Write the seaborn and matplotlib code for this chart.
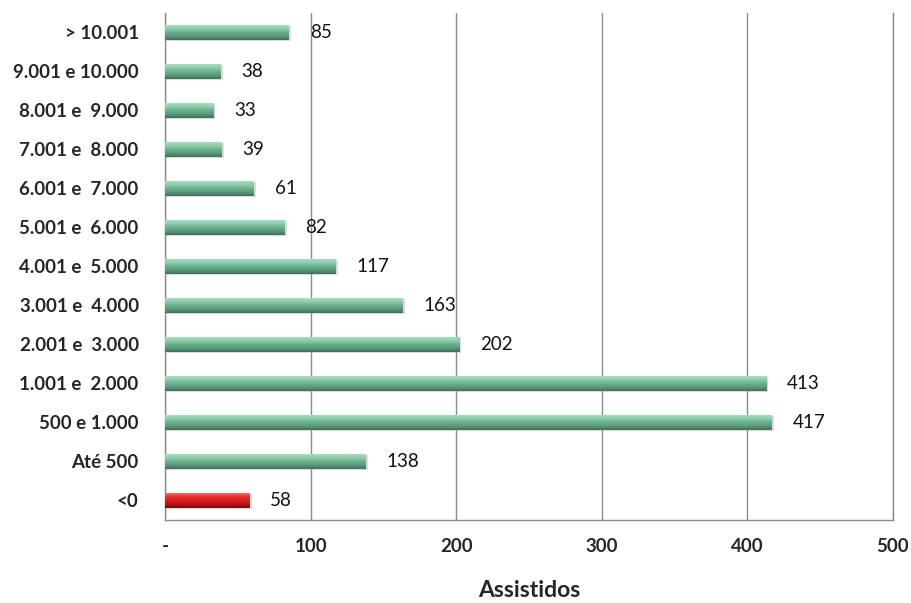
import numpy as np
import pandas as pd
import matplotlib
matplotlib.use("Agg")
import matplotlib.pyplot as plt
import seaborn as sns
from matplotlib.colors import LinearSegmentedColormap

# Income bands (top to bottom) and number of assisted people in each
faixas = ["> 10.001", "9.001 e 10.000", "8.001 e  9.000", "7.001 e  8.000",
          "6.001 e  7.000", "5.001 e  6.000", "4.001 e  5.000", "3.001 e  4.000",
          "2.001 e  3.000", "1.001 e  2.000", "500 e 1.000", "Até 500", "<0"]
assistidos = [85, 38, 33, 39, 61, 82, 117, 163, 202, 413, 417, 138, 58]
x_ticks = [0, 100, 200, 300, 400, 500]
x_ticklabels = ["-", "100", "200", "300", "400", "500"]

df = pd.DataFrame({"faixa": faixas, "assistidos": assistidos})
df["grupo"] = np.where(df["faixa"] == "<0", "negativo", "positivo")

sns.set_theme(style="white")
plt.rcParams["font.family"] = ["Lato", "DejaVu Sans"]

fig = plt.figure(figsize=(9.12, 6.03), dpi=100)
ax = fig.add_axes([0.181, 0.138, 0.798, 0.841])

palette = {"positivo": "#6aae8c", "negativo": "#d81e1e"}
sns.barplot(data=df, y="faixa", x="assistidos", hue="grupo", order=faixas,
            palette=palette, orient="h", width=0.38, dodge=False,
            legend=False, ax=ax, zorder=3)

# Bevelled look: vertical gradient clipped to each bar
green = LinearSegmentedColormap.from_list(
    "g", ["#a9dec0", "#8cccab", "#6aae8c", "#5a9a7b", "#3f6f58"])
red = LinearSegmentedColormap.from_list(
    "r", ["#f26a6a", "#ee3030", "#d81e1e", "#b81414", "#7a0a0a"])
grad = np.linspace(0, 1, 64).reshape(-1, 1)
for patch in list(ax.patches):
    x0, y0 = patch.get_x(), patch.get_y()
    w, h = patch.get_width(), patch.get_height()
    if w <= 0:
        continue
    cmap = red if patch.get_facecolor()[0] > 0.7 else green
    # soft shadow under the bar
    ax.add_patch(plt.Rectangle((x0, y0 + h * 0.08), w + 1.5, h * 1.0,
                               facecolor="#999999", alpha=0.35,
                               edgecolor="none", zorder=2))
    im = ax.imshow(grad, cmap=cmap, aspect="auto",
                   extent=(x0, x0 + w, y0 + h, y0), zorder=4,
                   interpolation="bilinear")
    im.set_clip_path(patch)
    patch.set_edgecolor("none")

# value labels just beyond the end of each bar
for i, v in enumerate(assistidos):
    ax.annotate(f"{v}", xy=(v, i), xytext=(15, 0), textcoords="offset points",
                ha="left", va="center", fontsize=13.5, color="#111111",
                zorder=6)

ax.set_xlim(0, 500)
ax.set_ylim(len(faixas) - 0.5, -0.5)
ax.set_xticks(x_ticks)
ax.set_xticklabels(x_ticklabels, fontsize=13.5, fontweight="bold")
ax.tick_params(axis="y", labelsize=13.5, pad=19, length=0)
ax.tick_params(axis="x", pad=13, length=0)
for lbl in ax.get_yticklabels():
    lbl.set_fontweight("bold")
ax.set_ylabel("")
ax.set_xlabel("Assistidos", fontsize=16.5, fontweight="bold", labelpad=18)

ax.grid(axis="x", color="#8c8c8c", linewidth=1.0, zorder=0)
ax.set_axisbelow(True)
for side in ["left", "bottom", "right"]:
    ax.spines[side].set_visible(True)
    ax.spines[side].set_color("#8c8c8c")
    ax.spines[side].set_linewidth(1.0)
ax.spines["top"].set_visible(False)

fig.savefig("out.png", dpi=100, facecolor="white")
